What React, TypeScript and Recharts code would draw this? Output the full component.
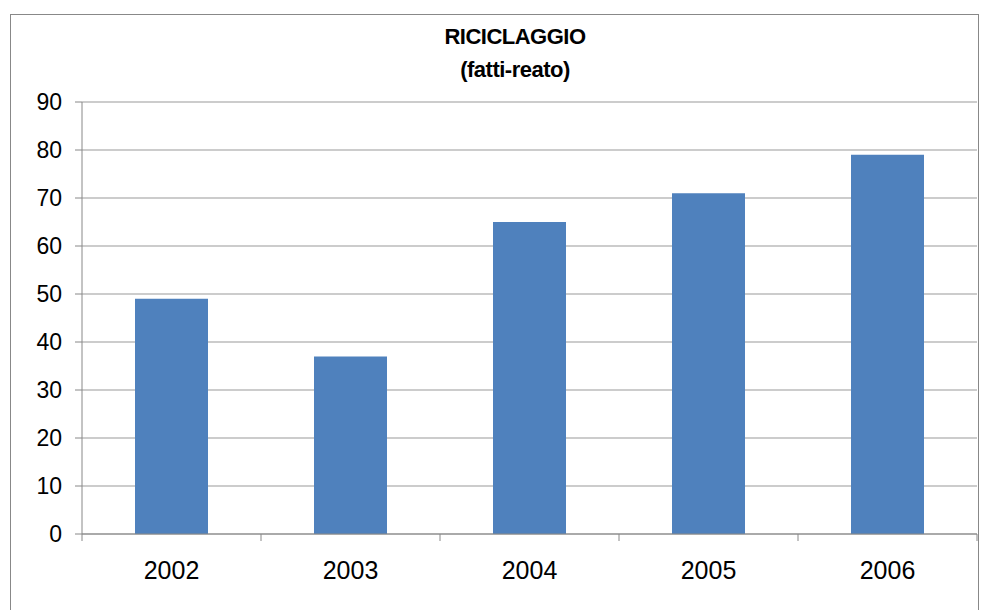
import { BarChart, Bar, XAxis, YAxis, CartesianGrid } from 'recharts';

// Riciclaggio, fatti-reato per anno
const years = ['2002', '2003', '2004', '2005', '2006'];
const fattiReato = [49, 37, 65, 71, 79];
const yTicks = [0, 10, 20, 30, 40, 50, 60, 70, 80, 90];

const data = years.map((year, i) => ({ year, value: fattiReato[i] }));

const FONT = '"Liberation Sans", Arial, sans-serif';
const X_TICK_SIZE = 7;
const X_TICK_MARGIN = 20;

// category label + tick marks at the category edges (Excel style)
function YearTick(props: any) {
  const { x, y, payload, index, visibleTicksCount } = props;
  const half = payload?.offset ?? 0;
  const axisY = y - X_TICK_SIZE - X_TICK_MARGIN;
  const isLast = index === visibleTicksCount - 1;
  return (
    <g>
      <line x1={x - half} x2={x - half} y1={axisY} y2={axisY + X_TICK_SIZE} stroke="#888" />
      {isLast && <line x1={x + half} x2={x + half} y1={axisY} y2={axisY + X_TICK_SIZE} stroke="#888" />}
      <text x={x} y={y} dy="0.71em" textAnchor="middle" fill="#000" fontSize={25} fontFamily={FONT}>
        {payload.value}
      </text>
    </g>
  );
}

export default function App() {
  return (
    <div style={{ position: 'absolute', left: 0, top: 0, width: 982, height: 610, background: '#fff', overflow: 'hidden', fontFamily: FONT }}>
      {/* outer frame */}
      <div style={{ position: 'absolute', left: 10, top: 14, width: 967, height: 640, border: '1px solid #888' }} />

      {/* title */}
      <div style={{ position: 'absolute', left: 315, width: 400, top: 20, textAlign: 'center', fontWeight: 'bold', fontSize: 22, letterSpacing: -0.5, lineHeight: '33px', color: '#000' }}>
        <div>RICICLAGGIO</div>
        <div>(fatti-reato)</div>
      </div>

      <div style={{ position: 'absolute', left: 0, top: 0 }}>
        <BarChart width={982} height={610} data={data} margin={{ top: 102, right: 5, left: 0, bottom: 0 }}>
          <CartesianGrid vertical={false} stroke="#999" strokeWidth={1} />
          <XAxis
            dataKey="year"
            height={76}
            tickLine={false}
            axisLine={{ stroke: '#888' }}
            tickSize={X_TICK_SIZE}
            tickMargin={X_TICK_MARGIN}
            interval={0}
            tick={<YearTick />}
          />
          <YAxis
            width={82}
            domain={[0, 90]}
            ticks={yTicks}
            interval={0}
            tickSize={7}
            tickMargin={13}
            axisLine={{ stroke: '#888' }}
            tickLine={{ stroke: '#888' }}
            tick={{ fill: '#000', fontSize: 23, fontFamily: FONT }}
          />
          <Bar dataKey="value" fill="#4F81BD" barSize={73} isAnimationActive={false} />
        </BarChart>
      </div>
    </div>
  );
}
